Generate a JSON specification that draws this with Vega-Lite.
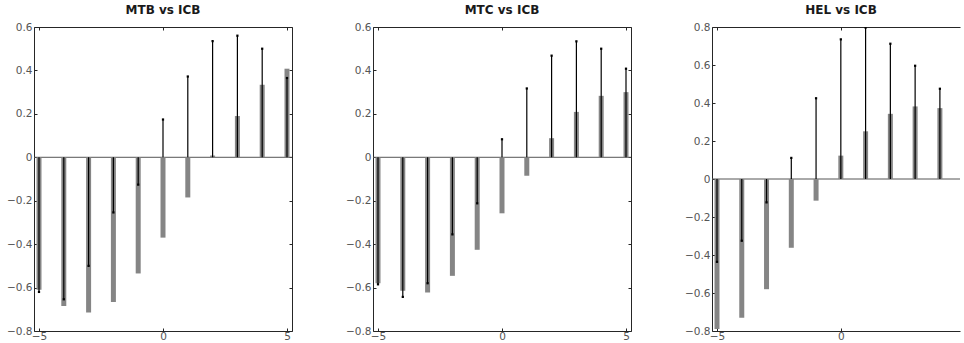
{
  "$schema": "https://vega.github.io/schema/vega-lite/v6.json",
  "padding": {"left": 6, "top": 4, "right": 0, "bottom": 0},
  "spacing": 81,
  "bounds": "flush",
  "background": "white",
  "config": {
    "view": {"stroke": null},
    "font": "DejaVu Sans",
    "title": {"font": "DejaVu Sans", "fontSize": 12, "fontWeight": "bold", "color": "#1a1a1a", "offset": 5, "frame": "group"},
    "axis": {
      "grid": false,
      "domainColor": "#262626",
      "domainWidth": 1,
      "tickColor": "#262626",
      "tickSize": -3,
      "labelFont": "DejaVu Sans",
      "labelFontSize": 10.5,
      "labelColor": "#555555",
      "title": null
    }
  },
  "hconcat": [
    {
      "width": 258, "height": 304,
      "title": "MTB vs ICB",
      "data": {"values": [
        {"x": -5, "m": -0.61, "e": -0.62},
        {"x": -4, "m": -0.685, "e": -0.654},
        {"x": -3, "m": -0.715, "e": -0.50},
        {"x": -2, "m": -0.666, "e": -0.254},
        {"x": -1, "m": -0.535, "e": -0.126},
        {"x": 0, "m": -0.37, "e": 0.174},
        {"x": 1, "m": -0.185, "e": 0.372},
        {"x": 2, "m": 0.008, "e": 0.535},
        {"x": 3, "m": 0.19, "e": 0.56},
        {"x": 4, "m": 0.334, "e": 0.50},
        {"x": 5, "m": 0.408, "e": 0.365}
      ]},
      "resolve": {"axis": {"x": "independent", "y": "independent"}},
      "layer": [
        {
          "mark": {"type": "rule", "color": "#555555", "strokeWidth": 1},
          "data": {"values": [{"z": 0}]},
          "encoding": {
            "y": {"field": "z", "type": "quantitative", "scale": {"domain": [-0.8, 0.6], "nice": false}, "axis": null}
          }
        },
        {
          "mark": {"type": "bar", "width": 5, "color": "#858585", "clip": true},
          "encoding": {
            "x": {"field": "x", "type": "quantitative", "scale": {"domain": [-5, 5], "nice": false}, "axis": {"orient": "bottom", "values": [-5, 0, 5], "labelPadding": 3}},
            "y": {"field": "m", "type": "quantitative", "scale": {"domain": [-0.8, 0.6], "nice": false}, "axis": {"orient": "left", "values": [-0.8, -0.6, -0.4, -0.2, 0, 0.2, 0.4, 0.6], "format": ".1~f", "labelPadding": 5}}
          }
        },
        {
          "mark": {"type": "rule", "color": "#000000", "strokeWidth": 1.2, "clip": true},
          "encoding": {
            "x": {"field": "x", "type": "quantitative", "axis": null},
            "y": {"field": "e", "type": "quantitative", "axis": null},
            "y2": {"datum": 0}
          }
        },
        {
          "mark": {"type": "square", "color": "#000000", "size": 5, "opacity": 1, "clip": true},
          "encoding": {
            "x": {"field": "x", "type": "quantitative", "axis": null},
            "y": {"field": "e", "type": "quantitative", "axis": null}
          }
        },
        {
          "mark": {"type": "point", "opacity": 0},
          "encoding": {
            "x": {"field": "x", "type": "quantitative", "axis": {"orient": "top", "labels": false, "values": [-5, 0, 5]}},
            "y": {"field": "m", "type": "quantitative", "axis": {"orient": "right", "labels": false, "values": [-0.8, -0.6, -0.4, -0.2, 0, 0.2, 0.4, 0.6]}}
          }
        }
      ]
    },
    {
      "width": 258, "height": 304,
      "title": "MTC vs ICB",
      "data": {"values": [
        {"x": -5, "m": -0.58, "e": -0.585},
        {"x": -4, "m": -0.615, "e": -0.643},
        {"x": -3, "m": -0.623, "e": -0.58},
        {"x": -2, "m": -0.546, "e": -0.355},
        {"x": -1, "m": -0.426, "e": -0.212},
        {"x": 0, "m": -0.258, "e": 0.083},
        {"x": 1, "m": -0.085, "e": 0.317},
        {"x": 2, "m": 0.088, "e": 0.468},
        {"x": 3, "m": 0.209, "e": 0.534},
        {"x": 4, "m": 0.283, "e": 0.50},
        {"x": 5, "m": 0.30, "e": 0.408}
      ]},
      "resolve": {"axis": {"x": "independent", "y": "independent"}},
      "layer": [
        {
          "mark": {"type": "rule", "color": "#555555", "strokeWidth": 1},
          "data": {"values": [{"z": 0}]},
          "encoding": {
            "y": {"field": "z", "type": "quantitative", "scale": {"domain": [-0.8, 0.6], "nice": false}, "axis": null}
          }
        },
        {
          "mark": {"type": "bar", "width": 5, "color": "#858585", "clip": true},
          "encoding": {
            "x": {"field": "x", "type": "quantitative", "scale": {"domain": [-5, 5], "nice": false}, "axis": {"orient": "bottom", "values": [-5, 0, 5], "labelPadding": 3}},
            "y": {"field": "m", "type": "quantitative", "scale": {"domain": [-0.8, 0.6], "nice": false}, "axis": {"orient": "left", "values": [-0.8, -0.6, -0.4, -0.2, 0, 0.2, 0.4, 0.6], "format": ".1~f", "labelPadding": 5}}
          }
        },
        {
          "mark": {"type": "rule", "color": "#000000", "strokeWidth": 1.2, "clip": true},
          "encoding": {
            "x": {"field": "x", "type": "quantitative", "axis": null},
            "y": {"field": "e", "type": "quantitative", "axis": null},
            "y2": {"datum": 0}
          }
        },
        {
          "mark": {"type": "square", "color": "#000000", "size": 5, "opacity": 1, "clip": true},
          "encoding": {
            "x": {"field": "x", "type": "quantitative", "axis": null},
            "y": {"field": "e", "type": "quantitative", "axis": null}
          }
        },
        {
          "mark": {"type": "point", "opacity": 0},
          "encoding": {
            "x": {"field": "x", "type": "quantitative", "axis": {"orient": "top", "labels": false, "values": [-5, 0, 5]}},
            "y": {"field": "m", "type": "quantitative", "axis": {"orient": "right", "labels": false, "values": [-0.8, -0.6, -0.4, -0.2, 0, 0.2, 0.4, 0.6]}}
          }
        }
      ]
    },
    {
      "width": 248, "height": 304,
      "title": {"text": "HEL vs ICB", "anchor": "middle", "dx": 5},
      "data": {"values": [
        {"x": -5, "m": -0.79, "e": -0.436},
        {"x": -4, "m": -0.73, "e": -0.325},
        {"x": -3, "m": -0.58, "e": -0.123},
        {"x": -2, "m": -0.362, "e": 0.111},
        {"x": -1, "m": -0.114, "e": 0.425},
        {"x": 0, "m": 0.123, "e": 0.735},
        {"x": 1, "m": 0.251, "e": 0.797},
        {"x": 2, "m": 0.343, "e": 0.712},
        {"x": 3, "m": 0.382, "e": 0.596},
        {"x": 4, "m": 0.373, "e": 0.475}
      ]},
      "resolve": {"axis": {"x": "independent", "y": "independent"}},
      "layer": [
        {
          "mark": {"type": "rule", "color": "#555555", "strokeWidth": 1},
          "data": {"values": [{"z": 0}]},
          "encoding": {
            "y": {"field": "z", "type": "quantitative", "scale": {"domain": [-0.8, 0.8], "nice": false}, "axis": null}
          }
        },
        {
          "mark": {"type": "bar", "width": 5, "color": "#858585", "clip": true},
          "encoding": {
            "x": {"field": "x", "type": "quantitative", "scale": {"domain": [-5, 4.61], "nice": false}, "axis": {"orient": "bottom", "values": [-5, 0], "labelPadding": 3}},
            "y": {"field": "m", "type": "quantitative", "scale": {"domain": [-0.8, 0.8], "nice": false}, "axis": {"orient": "left", "values": [-0.8, -0.6, -0.4, -0.2, 0, 0.2, 0.4, 0.6, 0.8], "format": ".1~f", "labelPadding": 5}}
          }
        },
        {
          "mark": {"type": "rule", "color": "#000000", "strokeWidth": 1.2, "clip": true},
          "encoding": {
            "x": {"field": "x", "type": "quantitative", "axis": null},
            "y": {"field": "e", "type": "quantitative", "axis": null},
            "y2": {"datum": 0}
          }
        },
        {
          "mark": {"type": "square", "color": "#000000", "size": 5, "opacity": 1, "clip": true},
          "encoding": {
            "x": {"field": "x", "type": "quantitative", "axis": null},
            "y": {"field": "e", "type": "quantitative", "axis": null}
          }
        },
        {
          "mark": {"type": "point", "opacity": 0},
          "encoding": {
            "x": {"field": "x", "type": "quantitative", "axis": {"orient": "top", "labels": false, "values": [-5, 0]}}
          }
        }
      ]
    }
  ]
}
